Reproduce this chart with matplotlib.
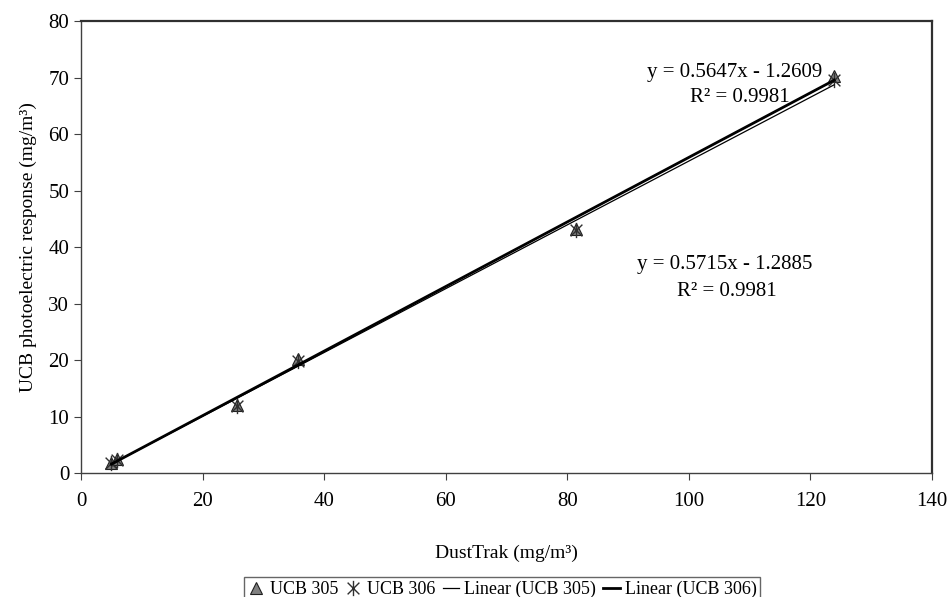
import matplotlib
matplotlib.use("Agg")
import matplotlib.pyplot as plt
from matplotlib.path import Path
import numpy as np

# values
dusttrak = [5.0, 5.9, 25.7, 35.7, 81.4, 123.9]
ucb305 = [1.8, 2.4, 12.0, 20.1, 43.2, 70.2]
ucb306 = [1.7, 2.3, 11.9, 19.8, 43.0, 69.6]
fit305 = (0.5647, -1.2609)
fit306 = (0.5715, -1.2885)
eq305 = ["y = 0.5647x - 1.2609", "R² = 0.9981"]
eq306 = ["y = 0.5715x - 1.2885", "R² = 0.9981"]

plt.rcParams['font.family'] = ['Liberation Serif', 'DejaVu Serif']

# excel style star: X plus vertical bar
star = Path([(-1, -1), (1, 1), (-1, 1), (1, -1), (0, -1.3), (0, 1.3)],
            [Path.MOVETO, Path.LINETO, Path.MOVETO, Path.LINETO, Path.MOVETO, Path.LINETO])

fig = plt.figure(figsize=(9.48, 5.97), dpi=100)
ax = fig.add_axes([0.0854, 0.2077, 0.8977, 0.7571])

ax.plot(dusttrak, ucb305, linestyle='none', marker='^', markersize=9,
        markerfacecolor='#808080', markeredgecolor='#202020', markeredgewidth=0.8,
        label='UCB 305')
ax.plot(dusttrak, ucb306, linestyle='none', marker=star, markersize=11,
        markerfacecolor='none', markeredgecolor='#303030', markeredgewidth=1.0,
        label='UCB 306')

xs = np.array([min(dusttrak), max(dusttrak)])
ax.plot(xs, fit305[0] * xs + fit305[1], color='black', lw=0.9, label='Linear (UCB 305)')
ax.plot(xs, fit306[0] * xs + fit306[1], color='black', lw=2.0, label='Linear (UCB 306)')


def place(x_px, y_px, s):
    fig.text(x_px / 948, 1 - y_px / 597, s, ha='center', va='center', fontsize=15)


place(735, 72, eq305[0])
place(740, 98, eq305[1])
place(725, 265, eq306[0])
place(727, 292, eq306[1])

ax.set_xlim(0, 140)
ax.set_ylim(0, 80)
ax.set_xticks(range(0, 141, 20))
ax.set_yticks(range(0, 81, 10))
ax.tick_params(direction='out', length=5, labelsize=15, color='#404040')
ax.tick_params(axis='x', pad=9)
for side in ['left', 'bottom']:
    ax.spines[side].set_color('#404040')
    ax.spines[side].set_linewidth(1.0)
for side in ['top', 'right']:
    ax.spines[side].set_color('#303030')
    ax.spines[side].set_linewidth(1.6)

ax.set_xlabel('DustTrak (mg/m³)', fontsize=14, labelpad=24)
ax.set_ylabel('UCB photoelectric response (mg/m³)', fontsize=14, labelpad=8)

leg = fig.legend(loc='upper center', bbox_to_anchor=(0.53, 0.048), ncol=4,
                 fontsize=13, frameon=True, fancybox=False, handlelength=0.9,
                 handletextpad=0.3, columnspacing=0.4, borderpad=0.2)
leg.get_frame().set_edgecolor('#404040')
leg.get_frame().set_linewidth(1.0)

fig.savefig('out.png', dpi=100)
